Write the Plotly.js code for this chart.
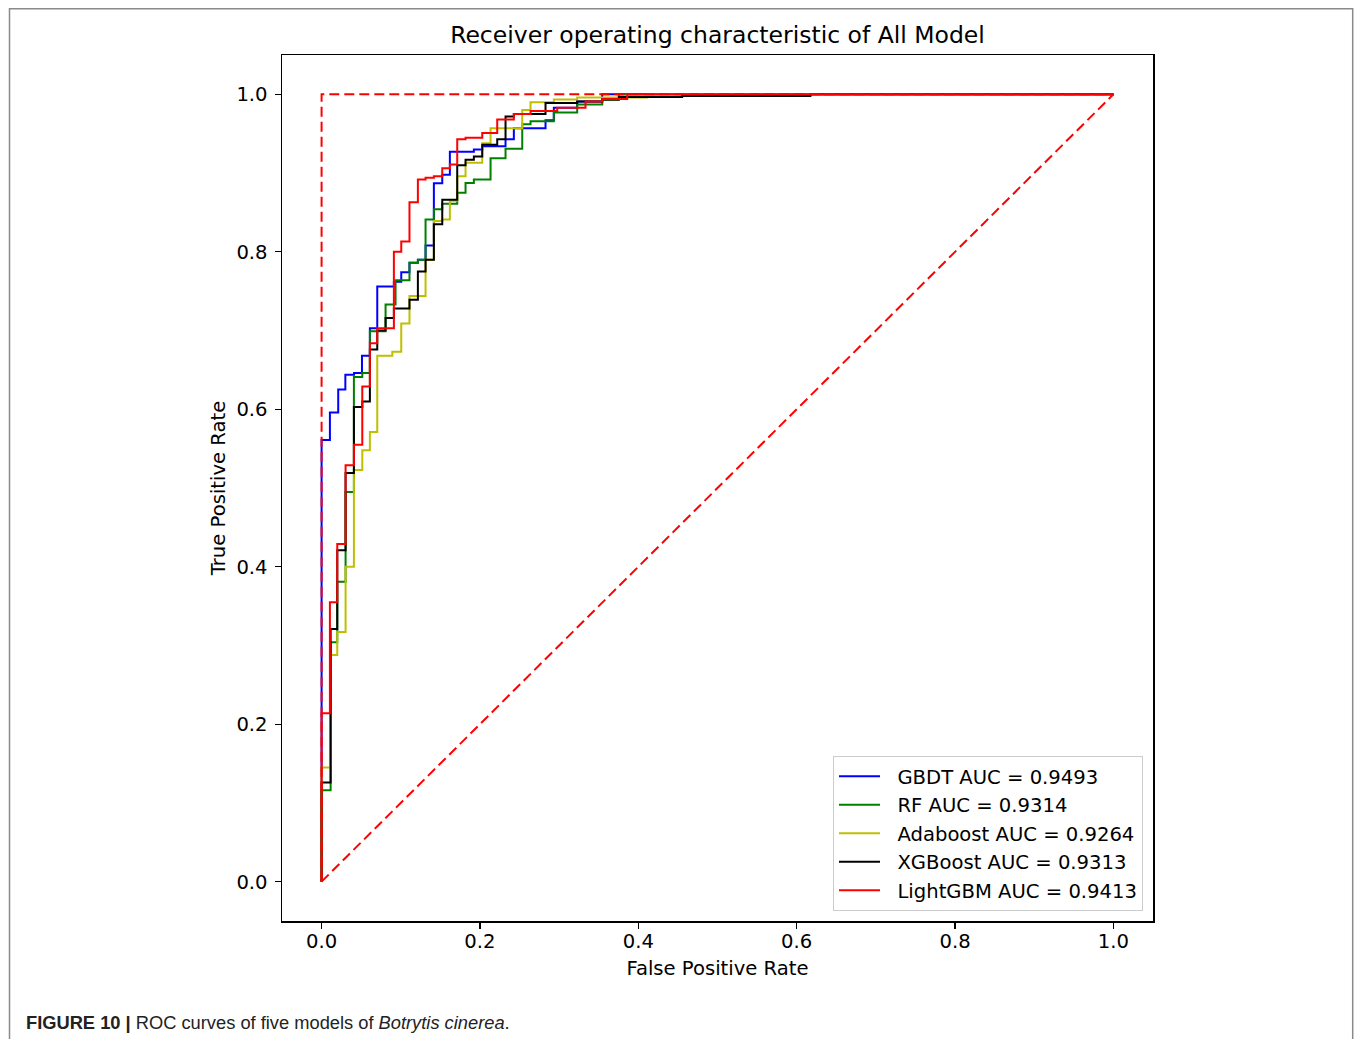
<!DOCTYPE html>
<html>
<head>
<meta charset="utf-8">
<script src="https://cdn.plot.ly/plotly-3.0.1.min.js"></script>
<style>html,body{margin:0;padding:0;background:#fff;}#chart{width:1355px;height:1039px;}</style>
</head>
<body>
<div id="chart"></div>
<script>
// ---- Data ----
const gbdtFpr = [0,0,0.0105,0.021,0.030,0.041,0.051,0.061,0.0703,0.0913,0.1006,0.111,0.1216,0.1313,0.1418,0.1524,0.162,0.1923,0.2029,0.2323,0.2428,0.2828,0.2933,0.3228,0.3544,1];
const gbdtTpr = [0,0.561,0.596,0.625,0.644,0.646,0.668,0.703,0.756,0.762,0.774,0.786,0.790,0.808,0.887,0.898,0.927,0.930,0.934,0.943,0.957,0.967,0.983,0.991,1.0,1.0];

const rfFpr = [0,0,0.0114,0.0198,0.0303,0.0408,0.0514,0.061,0.0808,0.0934,0.111,0.1216,0.1313,0.1418,0.1524,0.1713,0.1818,0.1923,0.2134,0.2323,0.2534,0.2639,0.2933,0.3228,0.3544,0.3754,1];
const rfTpr = [0,0.116,0.304,0.381,0.495,0.641,0.646,0.699,0.733,0.764,0.786,0.790,0.841,0.854,0.861,0.875,0.8875,0.892,0.919,0.931,0.962,0.966,0.977,0.987,0.993,1.0,1.0];

const adaFpr = [0,0,0.0114,0.0198,0.0303,0.0408,0.0514,0.061,0.0703,0.0893,0.1006,0.111,0.1313,0.1418,0.1524,0.162,0.1713,0.1818,0.2029,0.2134,0.2534,0.2639,0.2933,0.3228,0.4112,1];
const adaTpr = [0,0.145,0.288,0.317,0.400,0.523,0.548,0.571,0.668,0.673,0.709,0.744,0.790,0.839,0.841,0.865,0.896,0.913,0.938,0.957,0.980,0.990,0.9936,0.996,1.0,1.0];

const xgbFpr = [0,0,0.0114,0.0198,0.0303,0.0408,0.0514,0.061,0.0703,0.0808,0.0913,0.111,0.1216,0.1313,0.1418,0.1524,0.1713,0.1818,0.1923,0.2029,0.2218,0.2323,0.2428,0.2828,0.3228,0.3544,0.3754,0.4554,0.6174,1];
const xgbTpr = [0,0.126,0.321,0.421,0.519,0.603,0.610,0.676,0.700,0.716,0.728,0.739,0.775,0.790,0.835,0.866,0.910,0.917,0.921,0.936,0.943,0.972,0.975,0.989,0.991,0.9936,0.9965,0.998,1.0,1.0];

const lgbFpr = [0,0,0.0105,0.0198,0.0303,0.0408,0.0514,0.061,0.0703,0.0913,0.1006,0.111,0.1216,0.1313,0.1418,0.1524,0.162,0.1713,0.1818,0.2029,0.2218,0.2428,0.2639,0.2976,0.3333,0.3544,0.386,1];
const lgbTpr = [0,0.214,0.355,0.429,0.529,0.555,0.629,0.684,0.703,0.800,0.813,0.863,0.892,0.894,0.896,0.906,0.911,0.943,0.945,0.951,0.968,0.975,0.979,0.983,0.991,0.994,1.0,1.0];

const modelNames = ["GBDT AUC = 0.9493","RF AUC = 0.9314","Adaboost AUC = 0.9264","XGBoost AUC = 0.9313","LightGBM AUC = 0.9413"];
const modelColors = ["#0000ff","#008000","#bfbf00","#000000","#ff0000"];

const perfectX = [0,0,1];
const perfectY = [0,1,1];
const chanceX = [0,1];
const chanceY = [0,1];

const ticks = [0,0.2,0.4,0.6,0.8,1.0];
const tickText = ["0.0","0.2","0.4","0.6","0.8","1.0"];

// ---- Traces ----
const series = [[gbdtFpr,gbdtTpr],[rfFpr,rfTpr],[adaFpr,adaTpr],[xgbFpr,xgbTpr],[lgbFpr,lgbTpr]];
const traces = series.map((s,i)=>({
  x:s[0], y:s[1], type:'scatter', mode:'lines', name:'\u00a0\u00a0' + modelNames[i],
  line:{color:modelColors[i], width:2, shape:'hv'}
}));
traces.push({x:perfectX,y:perfectY,type:'scatter',mode:'lines',showlegend:false,
  line:{color:'#ff0000',width:2,dash:'10px,5px'}});
traces.push({x:chanceX,y:chanceY,type:'scatter',mode:'lines',showlegend:false,
  line:{color:'#ff0000',width:2,dash:'10px,5px'}});

const font = "DejaVu Sans";
const fs = 19.6;
const axisCommon = {
  range:[-0.05,1.05], tickvals:ticks, ticktext:tickText,
  showgrid:false, zeroline:false, showline:true, mirror:true,
  linecolor:'#000', linewidth:1.5, ticks:'outside', ticklen:6, tickwidth:1.3, tickcolor:'#000',
  tickfont:{family:font,size:fs,color:'#000'}
};

const layout = {
  width:1355, height:1039,
  margin:{l:282, r:202, t:55, b:118},
  paper_bgcolor:'#fff', plot_bgcolor:'#fff',
  font:{family:font,color:'#000'},
  title:{text:'Receiver operating characteristic of All Model', font:{family:font,size:23.5,color:'#000'},
    x:0.5, xref:'paper', xanchor:'center', y:1-35/1039, yref:'container', yanchor:'middle'},
  xaxis:Object.assign({}, axisCommon, {ticklabelstandoff:-4,
    title:{text:'False Positive Rate', font:{family:font,size:fs,color:'#000'}, standoff:9}}),
  yaxis:Object.assign({}, axisCommon, {ticklabelstandoff:3,
    title:{text:'True Positive Rate', font:{family:font,size:fs,color:'#000'}, standoff:5}}),
  showlegend:true,
  legend:{x:0.9885, xanchor:'right', y:0.0115, yanchor:'bottom',
    bgcolor:'rgba(255,255,255,0.8)', bordercolor:'#cccccc', borderwidth:1,
    font:{family:font,size:fs,color:'#000'}, itemwidth:41, tracegroupgap:0},
  shapes:[{type:'rect', xref:'paper', yref:'paper',
    x0:(9.5-282)/871, x1:(1352.7-282)/871, y0:(921-1060)/866, y1:(921-8.7)/866,
    line:{color:'#8a8a8a', width:1.5}, fillcolor:'rgba(0,0,0,0)', layer:'below'}],
  annotations:[{xref:'paper', yref:'paper', x:(24-282)/871, y:(921-1022)/866,
    xanchor:'left', yanchor:'middle', showarrow:false,
    text:'<b>FIGURE 10 |</b> ROC curves of five models of <i>Botrytis cinerea</i>.',
    font:{family:'Liberation Sans', size:18.3, color:'#222'}}]
};

Plotly.newPlot('chart', traces, layout, {displayModeBar:false, staticPlot:true});
</script>
</body>
</html>
